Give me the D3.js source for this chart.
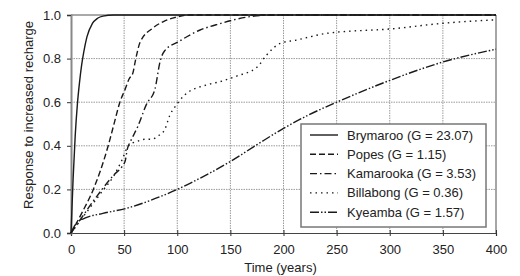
<!DOCTYPE html>
<html>
<head>
<meta charset="utf-8">
<script src="https://d3js.org/d3.v7.min.js"></script>
<style>
body { margin: 0; background: #fff; }
text { font-family: "Liberation Sans", Arial, sans-serif; fill: #222; }
.grid line { stroke: #9a9a9a; stroke-width: 1; stroke-dasharray: 1.5,1; }
.curve { fill: none; stroke: #1a1a1a; stroke-width: 1.4; }
</style>
</head>
<body>
<script>
// values
var xTicks = [0, 50, 100, 150, 200, 250, 300, 350, 400];
var yTicks = [0, 0.2, 0.4, 0.6, 0.8, 1.0];

var brymarooT = [0, 2, 4, 6, 8, 10, 12, 15, 20, 25, 30, 40, 400];
var brymarooV = [0, 0.25, 0.45, 0.59, 0.69, 0.77, 0.83, 0.9, 0.96, 0.985, 0.995, 1, 1];

var popesT = [0, 10, 21, 35, 41, 46, 51, 55, 58, 61, 65, 77, 87, 99, 110, 400];
var popesV = [0, 0.09, 0.2, 0.4, 0.51, 0.6, 0.66, 0.71, 0.73, 0.8, 0.875, 0.94, 0.97, 0.99, 1, 1];

var kamarookaT = [0, 10, 20, 30, 40, 48, 51, 53, 56, 63, 71, 79, 84, 88, 101, 121, 140, 165, 190, 400];
var kamarookaV = [0, 0.07, 0.14, 0.205, 0.265, 0.305, 0.33, 0.385, 0.42, 0.49, 0.59, 0.66, 0.79, 0.835, 0.877, 0.93, 0.96, 0.99, 1, 1];

var billabongT = [0, 10, 20, 30, 40, 48, 54, 62, 70, 76, 82, 88, 93, 98, 101, 107, 128, 140, 156, 175, 184, 197, 212, 241, 303, 350, 400];
var billabongV = [0, 0.065, 0.13, 0.195, 0.26, 0.335, 0.4, 0.42, 0.43, 0.43, 0.445, 0.472, 0.54, 0.58, 0.6, 0.633, 0.68, 0.694, 0.72, 0.76, 0.816, 0.87, 0.885, 0.916, 0.937, 0.962, 0.978];

var kyeambaT = [0, 5, 13, 30, 52, 75, 100, 112, 150, 175, 200, 223, 250, 300, 354, 400];
var kyeambaV = [0, 0.045, 0.068, 0.09, 0.113, 0.15, 0.2, 0.228, 0.328, 0.405, 0.48, 0.54, 0.6, 0.7, 0.79, 0.843];

var names = ["Brymaroo (G = 23.07)", "Popes (G = 1.15)", "Kamarooka (G = 3.53)", "Billabong (G = 0.36)", "Kyeamba (G = 1.57)"];
var dashes = [null, "6,3", "7,3,1.5,3", "1.5,4", "9,2,1.5,2,1.5,2"];

var series = [
  [brymarooT, brymarooV],
  [popesT, popesV],
  [kamarookaT, kamarookaV],
  [billabongT, billabongV],
  [kyeambaT, kyeambaV]
].map(function (s, i) {
  return { name: names[i], dash: dashes[i], pts: s[0].map(function (t, j) { return [t, s[1][j]]; }) };
});

var width = 520, height = 276;
var margin = { top: 15, right: 24, bottom: 43, left: 71 };
var w = width - margin.left - margin.right;
var h = height - margin.top - margin.bottom;

var svg = d3.select("body").append("svg")
  .attr("width", width)
  .attr("height", height);

var g = svg.append("g").attr("transform", "translate(" + margin.left + "," + margin.top + ")");

var x = d3.scaleLinear().domain([0, 400]).range([0, w]);
var y = d3.scaleLinear().domain([0, 1]).range([h, 0]);

// grid
g.append("g").attr("class", "grid")
  .selectAll("line").data(xTicks.slice(1, -1)).enter().append("line")
  .attr("x1", x).attr("x2", x).attr("y1", 0).attr("y2", h);
g.append("g").attr("class", "grid")
  .selectAll("line").data(yTicks.slice(1, -1)).enter().append("line")
  .attr("x1", 0).attr("x2", w).attr("y1", y).attr("y2", y);

// frame
g.append("line").attr("x1", w).attr("x2", w).attr("y1", 0).attr("y2", h)
  .attr("stroke", "#888").attr("stroke-width", 1.5);
g.append("line").attr("x1", 0).attr("x2", w).attr("y1", 0).attr("y2", 0)
  .attr("stroke", "#555").attr("stroke-width", 1);

// axes
var xAxis = g.append("g").attr("transform", "translate(0," + h + ")")
  .call(d3.axisBottom(x).tickValues(xTicks).tickSize(3).tickPadding(9).tickFormat(d3.format("d")));
xAxis.select(".domain").attr("stroke", "#444").attr("stroke-width", 1.2);
xAxis.selectAll(".tick line").attr("y1", -3).attr("stroke", "#333");
xAxis.selectAll("text").style("font-size", "13px").attr("fill", "#222");

var yAxis = g.append("g")
  .call(d3.axisLeft(y).tickValues(yTicks).tickSize(4).tickPadding(6).tickFormat(d3.format(".1f")));
yAxis.select(".domain").attr("stroke", "#888").attr("stroke-width", 2);
yAxis.selectAll(".tick line").attr("stroke", "#333");
yAxis.selectAll("text").style("font-size", "13px").attr("fill", "#222");

// curves
var line = d3.line()
  .x(function (d) { return x(d[0]); })
  .y(function (d) { return y(d[1]); })
  .curve(d3.curveMonotoneX);

g.selectAll(".curve").data(series).enter().append("path")
  .attr("class", "curve")
  .attr("d", function (d) { return line(d.pts); })
  .attr("stroke-dasharray", function (d) { return d.dash; });

// axis titles
svg.append("text")
  .attr("x", margin.left + w / 2 - 3)
  .attr("y", 272)
  .attr("text-anchor", "middle")
  .style("font-size", "13px")
  .text("Time (years)");

svg.append("text")
  .attr("transform", "translate(33,115) rotate(-90)")
  .attr("text-anchor", "middle")
  .style("font-size", "13px")
  .text("Response to increased recharge");

// legend
var lg = svg.append("g").attr("transform", "translate(301,124)");
lg.append("rect")
  .attr("width", 185).attr("height", 103)
  .attr("fill", "#fff").attr("stroke", "#777").attr("stroke-width", 1.5);

var row = lg.selectAll(".row").data(series).enter().append("g")
  .attr("transform", function (d, i) { return "translate(0," + (11 + i * 19.3) + ")"; });
row.append("line")
  .attr("class", "curve")
  .attr("x1", 9).attr("x2", 37)
  .attr("stroke-dasharray", function (d) { return d.dash; });
row.append("text")
  .attr("x", 46).attr("dy", "0.35em")
  .style("font-size", "13px")
  .text(function (d) { return d.name; });
</script>
</body>
</html>
